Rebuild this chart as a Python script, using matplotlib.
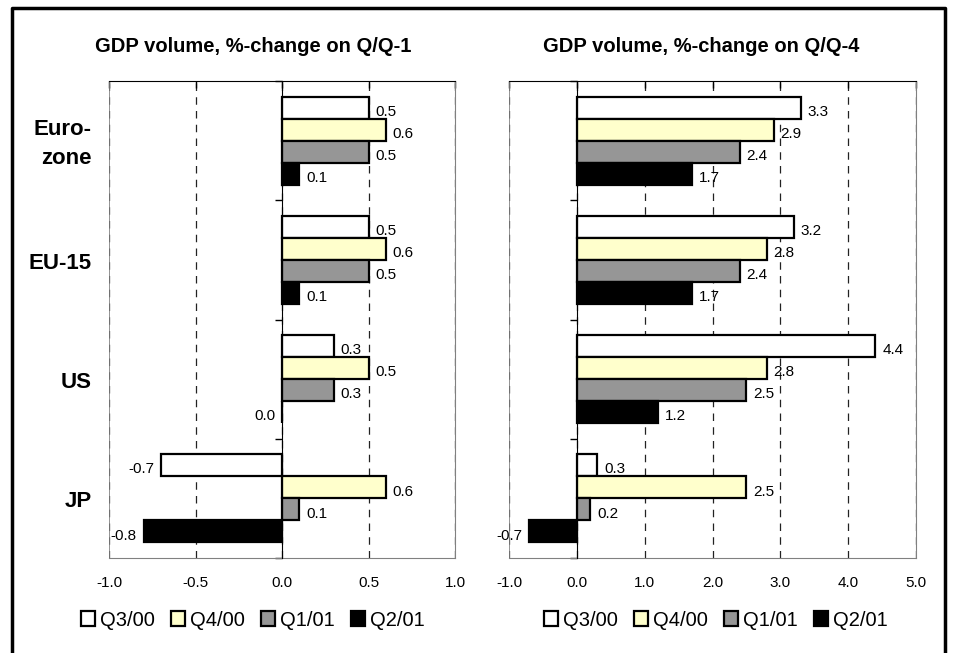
import numpy as np
import matplotlib
matplotlib.use("Agg")
import matplotlib.pyplot as plt
from matplotlib.lines import Line2D
from matplotlib.patches import Patch

plt.rcParams['font.family'] = ['Liberation Sans', 'DejaVu Sans']

# data
regions = ["Euro-\nzone", "EU-15", "US", "JP"]
quarters = ["Q3/00", "Q4/00", "Q1/01", "Q2/01"]
colors = ["white", "#ffffcc", "#969696", "black"]

# %-change on Q/Q-1, one list per quarter (regions in order)
qq1_q300 = [0.5, 0.5, 0.3, -0.7]
qq1_q400 = [0.6, 0.6, 0.5, 0.6]
qq1_q101 = [0.5, 0.5, 0.3, 0.1]
qq1_q201 = [0.1, 0.1, 0.0, -0.8]

# %-change on Q/Q-4
qq4_q300 = [3.3, 3.2, 4.4, 0.3]
qq4_q400 = [2.9, 2.8, 2.8, 2.5]
qq4_q101 = [2.4, 2.4, 2.5, 0.2]
qq4_q201 = [1.7, 1.7, 1.2, -0.7]

left_ticks = [-1.0, -0.5, 0.0, 0.5, 1.0]
right_ticks = [-1.0, 0.0, 1.0, 2.0, 3.0, 4.0, 5.0]

fig = plt.figure(figsize=(9.55, 6.53), dpi=100)

# outer frame (left, top, right)
fx0, fx1, fy1 = 11.5 / 955, 944.5 / 955, 1 - 7.5 / 653
fig.add_artist(Line2D([fx0, fx0, fx1, fx1], [-0.01, fy1, fy1, -0.01],
                      transform=fig.transFigure, color='black', lw=2.5))

ax1 = fig.add_axes([109 / 955, 95 / 653, 346 / 955, 477 / 653])
ax2 = fig.add_axes([509 / 955, 95 / 653, 407 / 955, 477 / 653])

h = 0.185
y = np.arange(len(regions))


def draw_panel(ax, series, ticks, title, title_x):
    for i, vals in enumerate(series):
        pos = y + (i - 1.5) * h
        ax.barh(pos, vals, height=h, color=colors[i], edgecolor='black',
                lw=1.6, zorder=3, label=quarters[i])
        for p, v in zip(pos, vals):
            if v > 0:
                ax.annotate(f"{v:.1f}", (v, p), xytext=(5, -3), textcoords='offset points',
                            ha='left', va='center', fontsize=11, zorder=5)
            else:
                ax.annotate(f"{v:.1f}", (v, p), xytext=(-5, -3), textcoords='offset points',
                            ha='right', va='center', fontsize=11, zorder=5)

    ax.set_xlim(ticks[0], ticks[-1])
    ax.set_ylim(len(regions) - 0.5, -0.5)
    ax.set_xticks(ticks)
    ax.set_xticklabels([f"{t:.1f}" for t in ticks], fontsize=11)
    ax.tick_params(axis='x', top=True, bottom=False, labeltop=False, labelbottom=True,
                   direction='in', length=5, width=1, pad=13)
    ax.grid(axis='x', linestyle=(0, (6, 5)), color='#222222', lw=0.9, zorder=1)

    # category axis sits at zero
    ax.spines['left'].set_position(('data', 0))
    ax.spines['left'].set_color('black')
    ax.spines['left'].set_zorder(4)
    ax.spines['top'].set_color('black')
    ax.spines['right'].set_color('#808080')
    ax.spines['bottom'].set_color('#808080')
    ax.set_yticks([])
    ax.set_yticks(np.arange(len(regions) + 1) - 0.5, minor=True)
    ax.tick_params(axis='y', which='minor', left=True, direction='out', length=5, width=1)
    ax.add_artist(Line2D([0, 0], [0, 1], transform=ax.transAxes, color='#808080', lw=1.2))

    fig.text(title_x, 1 - 46 / 653, title, fontsize=14.5, fontweight='bold',
             ha='center', va='center')


draw_panel(ax1, [qq1_q300, qq1_q400, qq1_q101, qq1_q201], left_ticks,
           "GDP volume, %-change on Q/Q-1", 253 / 955)
draw_panel(ax2, [qq4_q300, qq4_q400, qq4_q101, qq4_q201], right_ticks,
           "GDP volume, %-change on Q/Q-4", 701 / 955)

# region labels on the left
for yi, name in zip(y, regions):
    ax1.text(-0.05, yi + 0.03, name, transform=ax1.get_yaxis_transform(), ha='right',
             va='center', fontsize=16, fontweight='bold', linespacing=1.5)

# legends
handles = [Patch(facecolor=c, edgecolor='black', lw=1.6) for c in colors]
for ax, cx in [(ax1, 0.416), (ax2, 0.509)]:
    ax.legend(handles, quarters, loc='center', bbox_to_anchor=(cx, -0.13), ncol=4,
              frameon=False, fontsize=14.5, handlelength=0.7, handleheight=0.7,
              handletextpad=0.25, columnspacing=0.8, borderaxespad=0)

plt.savefig('out.png', dpi=100)
